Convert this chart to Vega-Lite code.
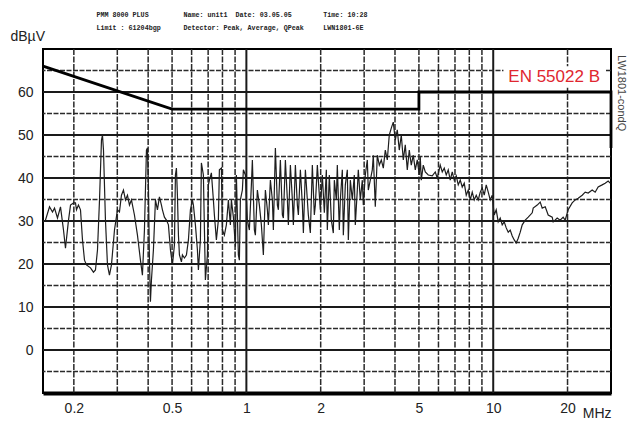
{
  "$schema": "https://vega.github.io/schema/vega-lite/v6.json",
  "width": 568,
  "height": 344,
  "autosize": "none",
  "padding": {"left": 43, "top": 49, "right": 18, "bottom": 38},
  "background": "white",
  "datasets": {
    "trace": [
      {"f":0.150,"db":29.8},{"f":0.1535,"db":30.2},{"f":0.1594,"db":33.3},{"f":0.1639,"db":32.1},{"f":0.1670,"db":33.0},{"f":0.1717,"db":30.7},{"f":0.1766,"db":33.3},{"f":0.1816,"db":27.9},{"f":0.1850,"db":23.7},{"f":0.1903,"db":30.2},{"f":0.1939,"db":33.7},{"f":0.1995,"db":34.2},{"f":0.2031,"db":34.2},{"f":0.2050,"db":32.6},{"f":0.2088,"db":33.7},{"f":0.2128,"db":32.6},{"f":0.2168,"db":25.6},{"f":0.2209,"db":20.9},{"f":0.2250,"db":19.8},{"f":0.2336,"db":19.1},{"f":0.2402,"db":18.1},{"f":0.2447,"db":18.6},{"f":0.2494,"db":23.3},{"f":0.2541,"db":34.9},{"f":0.2588,"db":48.8},{"f":0.2612,"db":50.0},{"f":0.2637,"db":46.5},{"f":0.2686,"db":30.2},{"f":0.2737,"db":19.8},{"f":0.2788,"db":17.4},{"f":0.2841,"db":19.8},{"f":0.2922,"db":27.9},{"f":0.3004,"db":32.6},{"f":0.3061,"db":32.1},{"f":0.3118,"db":36.0},{"f":0.3177,"db":37.2},{"f":0.3237,"db":34.9},{"f":0.3298,"db":36.0},{"f":0.3360,"db":33.7},{"f":0.3423,"db":34.9},{"f":0.3520,"db":31.4},{"f":0.3620,"db":26.7},{"f":0.3723,"db":20.9},{"f":0.3792,"db":17.4},{"f":0.3864,"db":27.9},{"f":0.3937,"db":46.5},{"f":0.3973,"db":47.0},{"f":0.4011,"db":37.9},{"f":0.4049,"db":20.9},{"f":0.4086,"db":11.2},{"f":0.4125,"db":16.3},{"f":0.4202,"db":23.3},{"f":0.4282,"db":34.9},{"f":0.4362,"db":32.6},{"f":0.4444,"db":35.6},{"f":0.4528,"db":33.7},{"f":0.4570,"db":32.6},{"f":0.4656,"db":30.9},{"f":0.4744,"db":30.2},{"f":0.4833,"db":29.1},{"f":0.4924,"db":23.3},{"f":0.5017,"db":19.8},{"f":0.5111,"db":24.4},{"f":0.5159,"db":40.7},{"f":0.5207,"db":42.3},{"f":0.5256,"db":36.0},{"f":0.5306,"db":26.7},{"f":0.5355,"db":22.1},{"f":0.5456,"db":20.5},{"f":0.5507,"db":22.1},{"f":0.5610,"db":21.4},{"f":0.5716,"db":22.1},{"f":0.5824,"db":25.6},{"f":0.5933,"db":32.6},{"f":0.6045,"db":34.9},{"f":0.6101,"db":33.7},{"f":0.6216,"db":29.1},{"f":0.6333,"db":23.3},{"f":0.6392,"db":18.6},{"f":0.6512,"db":25.6},{"f":0.6573,"db":43.5},{"f":0.6696,"db":40.7},{"f":0.6823,"db":16.3},{"f":0.6952,"db":22.1},{"f":0.7017,"db":38.4},{"f":0.7083,"db":39.5},{"f":0.7215,"db":41.2},{"f":0.7351,"db":34.9},{"f":0.7420,"db":31.4},{"f":0.7559,"db":25.6},{"f":0.7701,"db":30.2},{"f":0.7774,"db":41.9},{"f":0.7921,"db":42.3},{"f":0.7995,"db":27.9},{"f":0.8144,"db":26.7},{"f":0.8298,"db":29.1},{"f":0.8454,"db":34.9},{"f":0.8613,"db":29.1},{"f":0.8695,"db":34.9},{"f":0.8859,"db":30.9},{"f":0.9026,"db":24.0},{"f":0.9110,"db":40.7},{"f":0.9280,"db":22.1},{"f":0.9368,"db":20.9},{"f":0.9456,"db":34.9},{"f":0.9634,"db":37.2},{"f":0.9725,"db":41.9},{"f":0.9907,"db":40.7},{"f":1.0094,"db":30.2},{"f":1.0283,"db":27.9},{"f":1.0477,"db":38.4},{"f":1.0575,"db":44.2},{"f":1.0775,"db":27.9},{"f":1.0875,"db":26.7},{"f":1.1080,"db":37.2},{"f":1.1289,"db":33.7},{"f":1.1502,"db":29.1},{"f":1.1610,"db":25.6},{"f":1.1718,"db":22.1},{"f":1.1939,"db":37.2},{"f":1.2164,"db":32.6},{"f":1.2278,"db":29.1},{"f":1.2510,"db":39.5},{"f":1.2745,"db":34.9},{"f":1.2864,"db":27.9},{"f":1.3107,"db":47.0},{"f":1.3354,"db":33.7},{"f":1.3479,"db":32.6},{"f":1.3732,"db":44.2},{"f":1.3991,"db":31.4},{"f":1.4122,"db":30.7},{"f":1.4388,"db":44.2},{"f":1.4659,"db":34.9},{"f":1.4796,"db":29.1},{"f":1.5075,"db":43.0},{"f":1.5359,"db":34.9},{"f":1.5502,"db":29.1},{"f":1.5794,"db":43.0},{"f":1.6092,"db":33.7},{"f":1.6242,"db":31.4},{"f":1.6548,"db":41.9},{"f":1.6860,"db":33.7},{"f":1.7018,"db":27.2},{"f":1.7338,"db":41.9},{"f":1.7660,"db":34.9},{"f":1.7824,"db":31.4},{"f":1.8160,"db":27.2},{"f":1.8502,"db":43.0},{"f":1.8850,"db":31.4},{"f":1.9027,"db":33.7},{"f":1.9386,"db":43.0},{"f":1.9751,"db":36.0},{"f":1.9935,"db":32.6},{"f":2.0310,"db":40.7},{"f":2.0693,"db":31.9},{"f":2.1082,"db":41.9},{"f":2.1277,"db":27.9},{"f":2.1677,"db":40.7},{"f":2.2086,"db":30.2},{"f":2.2502,"db":27.2},{"f":2.2715,"db":39.5},{"f":2.3142,"db":34.9},{"f":2.3357,"db":43.0},{"f":2.3797,"db":27.9},{"f":2.4022,"db":34.9},{"f":2.4474,"db":41.9},{"f":2.4703,"db":26.7},{"f":2.5168,"db":38.4},{"f":2.5643,"db":41.9},{"f":2.5883,"db":25.6},{"f":2.6370,"db":39.5},{"f":2.6860,"db":34.9},{"f":2.7366,"db":40.7},{"f":2.7623,"db":29.1},{"f":2.8143,"db":37.2},{"f":2.8406,"db":41.9},{"f":2.8942,"db":34.9},{"f":2.9487,"db":39.5},{"f":2.9766,"db":33.7},{"f":3.0325,"db":40.7},{"f":3.0897,"db":44.2},{"f":3.1183,"db":37.2},{"f":3.1769,"db":39.5},{"f":3.2367,"db":41.9},{"f":3.2671,"db":45.3},{"f":3.3287,"db":33.3},{"f":3.3913,"db":45.3},{"f":3.4552,"db":43.0},{"f":3.5204,"db":44.2},{"f":3.5867,"db":42.3},{"f":3.6543,"db":46.5},{"f":3.7229,"db":44.2},{"f":3.7922,"db":50.0},{"f":3.8637,"db":51.6},{"f":3.9365,"db":53.0},{"f":4.0106,"db":48.8},{"f":4.0862,"db":51.2},{"f":4.1632,"db":46.5},{"f":4.2416,"db":50.0},{"f":4.3215,"db":44.2},{"f":4.4029,"db":47.7},{"f":4.4858,"db":41.9},{"f":4.5703,"db":46.5},{"f":4.6559,"db":43.0},{"f":4.7436,"db":45.3},{"f":4.8329,"db":41.9},{"f":4.9239,"db":44.2},{"f":5.0166,"db":40.7},{"f":5.0642,"db":44.9},{"f":5.1112,"db":39.5},{"f":5.2075,"db":43.0},{"f":5.3057,"db":41.4},{"f":5.4562,"db":40.7},{"f":5.6624,"db":40.5},{"f":5.8237,"db":41.4},{"f":5.9334,"db":40.0},{"f":6.1012,"db":43.0},{"f":6.2157,"db":41.4},{"f":6.3327,"db":42.3},{"f":6.4519,"db":40.7},{"f":6.5734,"db":41.9},{"f":6.6963,"db":39.5},{"f":6.8234,"db":41.4},{"f":6.9519,"db":39.5},{"f":7.0828,"db":40.5},{"f":7.2155,"db":38.4},{"f":7.3514,"db":39.5},{"f":7.4898,"db":37.9},{"f":7.6309,"db":38.8},{"f":7.7746,"db":36.0},{"f":7.9207,"db":37.2},{"f":8.0699,"db":34.9},{"f":8.2224,"db":36.7},{"f":8.3768,"db":34.9},{"f":8.5346,"db":36.0},{"f":8.6953,"db":34.9},{"f":8.8587,"db":36.7},{"f":9.0255,"db":37.7},{"f":9.1955,"db":36.0},{"f":9.3686,"db":38.4},{"f":9.5450,"db":36.7},{"f":9.7252,"db":34.9},{"f":9.9083,"db":36.0},{"f":10.093,"db":31.4},{"f":10.283,"db":32.6},{"f":10.477,"db":29.8},{"f":10.674,"db":30.7},{"f":10.875,"db":29.1},{"f":11.080,"db":29.8},{"f":11.289,"db":28.4},{"f":11.502,"db":27.4},{"f":11.718,"db":27.9},{"f":11.939,"db":26.5},{"f":12.164,"db":25.6},{"f":12.393,"db":24.9},{"f":12.627,"db":26.0},{"f":12.864,"db":27.4},{"f":13.107,"db":29.1},{"f":13.479,"db":30.2},{"f":13.862,"db":30.9},{"f":14.388,"db":31.9},{"f":14.52,"db":33.0},{"f":15.075,"db":33.7},{"f":15.502,"db":34.4},{"f":15.794,"db":33.0},{"f":16.242,"db":33.3},{"f":16.70,"db":31.4},{"f":17.338,"db":30.9},{"f":17.50,"db":29.8},{"f":18.160,"db":30.7},{"f":18.67,"db":30.2},{"f":19.20,"db":30.9},{"f":19.56,"db":30.2},{"f":20.12,"db":32.6},{"f":20.88,"db":34.2},{"f":21.48,"db":34.9},{"f":22.09,"db":35.3},{"f":22.93,"db":36.0},{"f":23.58,"db":36.7},{"f":24.25,"db":36.5},{"f":25.17,"db":37.2},{"f":25.88,"db":36.7},{"f":26.61,"db":37.9},{"f":27.62,"db":38.4},{"f":28.41,"db":38.8},{"f":29.22,"db":39.3},{"f":29.77,"db":38.8}
    ],
    "limit": [
      {"f":0.15,"db":66},{"f":0.5,"db":56},{"f":5,"db":56},{"f":5,"db":60},{"f":30,"db":60},{"f":30,"db":47}
    ],
    "vminor": [
      {"f":0.2},{"f":0.3},{"f":0.4},{"f":0.5},{"f":0.6},{"f":0.7},{"f":0.8},{"f":0.9},
      {"f":2},{"f":3},{"f":4},{"f":5},{"f":6},{"f":7},{"f":8},{"f":9},{"f":20}
    ],
    "vmajor": [{"f":1},{"f":10}],
    "hmajor": [{"db":0},{"db":10},{"db":20},{"db":30},{"db":40},{"db":50},{"db":60}],
    "hminor": [{"db":-5},{"db":5},{"db":15},{"db":25},{"db":35},{"db":45},{"db":55},{"db":65}]
  },
  "layer": [
    {
      "data": {"name": "vminor"},
      "mark": {"type": "rule", "color": "#2a2a2a", "strokeWidth": 1.5, "strokeDash": [6, 1.5]},
      "encoding": {
        "x": {"field": "f", "type": "quantitative", "scale": {"type": "log", "domain": [0.15, 30], "nice": false, "zero": false}}
      }
    },
    {
      "data": {"name": "vmajor"},
      "mark": {"type": "rule", "color": "#1a1a1a", "strokeWidth": 2},
      "encoding": {
        "x": {"field": "f", "type": "quantitative"}
      }
    },
    {
      "data": {"name": "hminor"},
      "mark": {"type": "rule", "color": "#2a2a2a", "strokeWidth": 1.5, "strokeDash": [5, 1.5]},
      "encoding": {
        "y": {"field": "db", "type": "quantitative", "scale": {"domain": [-10, 70], "nice": false, "zero": false}}
      }
    },
    {
      "data": {"name": "hmajor"},
      "mark": {"type": "rule", "color": "#1a1a1a", "strokeWidth": 2},
      "encoding": {
        "y": {"field": "db", "type": "quantitative"}
      }
    },
    {
      "data": {"values": [{}]},
      "mark": {"type": "rect", "color": "white"},
      "encoding": {
        "x": {"datum": 11, "type": "quantitative"},
        "x2": {"datum": 28.4},
        "y": {"datum": 61, "type": "quantitative"},
        "y2": {"datum": 66}
      }
    },
    {
      "data": {"name": "trace"},
      "mark": {"type": "line", "color": "#1e1e1e", "strokeWidth": 1.2},
      "encoding": {
        "x": {"field": "f", "type": "quantitative",
          "axis": {"values": [0.2, 0.5, 1, 2, 5, 10, 20], "format": "~g", "grid": false, "ticks": false, "domain": true, "domainColor": "#000", "domainWidth": 4, "labelPadding": 8, "title": "MHz", "titleX": 568, "titleY": 24, "titleAlign": "right", "titleBaseline": "alphabetic", "titleFontWeight": "normal", "titleFontSize": 14, "titleFont": "Liberation Sans", "titleColor": "#222"}},
        "y": {"field": "db", "type": "quantitative",
          "axis": {"values": [0, 10, 20, 30, 40, 50, 60], "grid": false, "ticks": false, "domain": false, "labelPadding": 10, "title": "dBµV", "titleAngle": 0, "titleX": -33, "titleY": -9, "titleAlign": "left", "titleBaseline": "alphabetic", "titleFontWeight": "normal", "titleFontSize": 14, "titleFont": "Liberation Sans", "titleColor": "#222"}}
      }
    },
    {
      "data": {"name": "limit"},
      "mark": {"type": "line", "color": "#000", "strokeWidth": 2.8},
      "encoding": {
        "x": {"field": "f", "type": "quantitative"},
        "y": {"field": "db", "type": "quantitative"},
        "order": {"value": null}
      }
    },
    {
      "data": {"values": [{}]},
      "mark": {"type": "text", "text": "EN 55022 B", "color": "#e0262f", "font": "Liberation Sans", "fontSize": 17, "align": "right", "baseline": "middle", "dx": -11},
      "encoding": {
        "x": {"datum": 30, "type": "quantitative"},
        "y": {"datum": 63.4, "type": "quantitative"}
      }
    },
    {
      "data": {"values": [{}]},
      "mark": {"type": "text", "text": "LW1801-condQ", "color": "#444", "font": "Liberation Sans", "fontSize": 11, "align": "left", "baseline": "middle", "angle": 90, "dx": 6, "dy": -10, "clip": false},
      "encoding": {
        "x": {"datum": 30, "type": "quantitative"},
        "y": {"datum": 70, "type": "quantitative"}
      }
    },
    {
      "data": {"values": [{}]},
      "mark": {"type": "text", "text": ["PMM 8000 PLUS", "Limit : 61204bgp"], "color": "#222", "font": "Liberation Mono", "fontSize": 6.7, "fontWeight": "bold", "align": "left", "baseline": "alphabetic", "lineHeight": 13, "clip": false},
      "encoding": {
        "x": {"datum": 0.247, "type": "quantitative"},
        "y": {"datum": 77.33, "type": "quantitative"}
      }
    },
    {
      "data": {"values": [{}]},
      "mark": {"type": "text", "text": ["Name: unit1\u00a0 Date: 03.05.05", "Detector: Peak, Average, QPeak"], "color": "#222", "font": "Liberation Mono", "fontSize": 6.7, "fontWeight": "bold", "align": "left", "baseline": "alphabetic", "lineHeight": 13, "clip": false},
      "encoding": {
        "x": {"datum": 0.5557, "type": "quantitative"},
        "y": {"datum": 77.33, "type": "quantitative"}
      }
    },
    {
      "data": {"values": [{}]},
      "mark": {"type": "text", "text": ["Time: 10:28", "LWN1801-6E"], "color": "#222", "font": "Liberation Mono", "fontSize": 6.7, "fontWeight": "bold", "align": "left", "baseline": "alphabetic", "lineHeight": 13, "clip": false},
      "encoding": {
        "x": {"datum": 2.05, "type": "quantitative"},
        "y": {"datum": 77.33, "type": "quantitative"}
      }
    }
  ],
  "config": {
    "view": {"stroke": "#000", "strokeWidth": 2},
    "axis": {"labelFont": "Liberation Sans", "labelFontSize": 14, "labelColor": "#222"}
  }
}
